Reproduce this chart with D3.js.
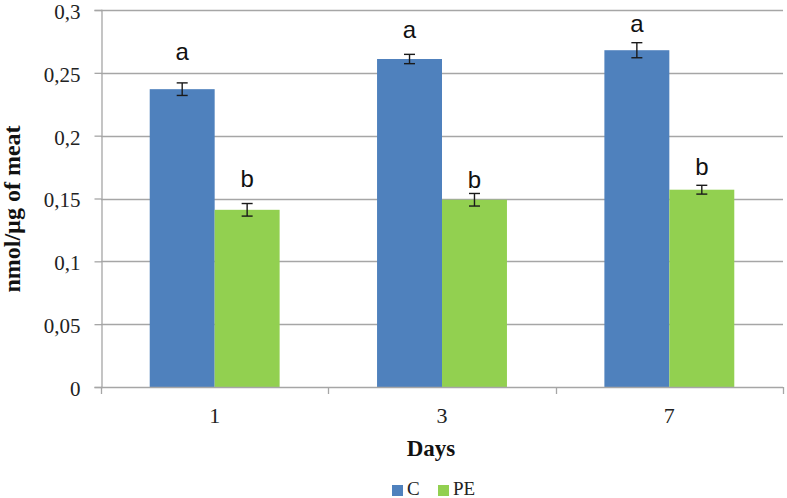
<!DOCTYPE html>
<html>
<head>
<meta charset="utf-8">
<script src="https://cdn.jsdelivr.net/npm/d3@7"></script>
<style>
  body { margin: 0; background: #fff; }
  svg { display: block; }
</style>
</head>
<body>
<svg id="chart" width="787" height="498"></svg>
<script>
// ---- data ----
const days = ["1", "3", "7"];
const seriesNames = ["C", "PE"];
const valuesC = [0.237, 0.261, 0.268];
const valuesPE = [0.141, 0.149, 0.157];
const errC = [0.005, 0.0037, 0.006];
const errPE = [0.005, 0.005, 0.0035];
const lettersC = ["a", "a", "a"];
const lettersPE = ["b", "b", "b"];
// letter baseline positions, in data units
const letterPosC = [0.260, 0.2777, 0.2825];
const letterPosPE = [0.1594, 0.158, 0.1687];
const yTicks = [0, 0.05, 0.1, 0.15, 0.2, 0.25, 0.3];
const yTitle = "nmol/µg of meat";
const xTitle = "Days";
const colors = { C: "#4f81bd", PE: "#92d050" };

(function () {
const rows = [];
days.forEach((d, i) => {
  rows.push({ day: d, s: "C", v: valuesC[i], e: errC[i], l: lettersC[i], lp: letterPosC[i] });
  rows.push({ day: d, s: "PE", v: valuesPE[i], e: errPE[i], l: lettersPE[i], lp: letterPosPE[i] });
});

const svg = d3.select("#chart");
const mL = 101, mR = 783, mT = 10, mB = 387;

const x = d3.scaleBand().domain(days).range([mL, mR]).paddingInner(0).paddingOuter(0);
const xs = d3.scaleBand().domain(seriesNames).range([0, x.bandwidth()]).paddingInner(0).paddingOuter(0.75);
const y = d3.scaleLinear().domain([0, 0.3]).range([mB, mT]);

const fmt = v => String(v).replace(".", ",");

// gridlines
svg.append("g").selectAll("line").data(yTicks.filter(t => t > 0)).join("line")
  .attr("x1", mL).attr("x2", mR)
  .attr("y1", d => Math.round(y(d)) + 0.5).attr("y2", d => Math.round(y(d)) + 0.5)
  .attr("stroke", "#a6a6a6").attr("stroke-width", 1.3);

// bars
svg.append("g").selectAll("rect").data(rows).join("rect")
  .attr("x", d => x(d.day) + xs(d.s))
  .attr("width", xs.bandwidth())
  .attr("y", d => y(d.v))
  .attr("height", d => y(0) - y(d.v))
  .attr("fill", d => colors[d.s]);

// y axis
const yAxis = d3.axisLeft(y).tickValues(yTicks).tickFormat(fmt).tickSize(7).tickPadding(14);
const gy = svg.append("g").attr("transform", `translate(${mL + 0.5},0)`).call(yAxis);
gy.select(".domain").attr("stroke", "#a6a6a6").attr("stroke-width", 1.3);
gy.selectAll(".tick line").attr("stroke", "#a6a6a6").attr("stroke-width", 1.3);
gy.selectAll(".tick text").attr("font-family", "Liberation Serif, Times New Roman, serif")
  .attr("font-size", 21).attr("fill", "#222").attr("dy", "0.4em");

// x axis (ticks at category boundaries)
const boundaries = days.map(d => x(d)).concat([mR]);
const gx = svg.append("g");
gx.append("line").attr("x1", mL).attr("x2", mR)
  .attr("y1", mB + 0.5).attr("y2", mB + 0.5)
  .attr("stroke", "#a6a6a6").attr("stroke-width", 1.3);
gx.selectAll("line.tk").data(boundaries).join("line").attr("class", "tk")
  .attr("x1", d => Math.round(d) + 0.5).attr("x2", d => Math.round(d) + 0.5)
  .attr("y1", mB).attr("y2", mB + 7)
  .attr("stroke", "#a6a6a6").attr("stroke-width", 1.3);
gx.selectAll("text").data(days).join("text")
  .attr("x", d => x(d) + x.bandwidth() / 2)
  .attr("y", 423)
  .attr("text-anchor", "middle")
  .attr("font-family", "Liberation Serif, Times New Roman, serif")
  .attr("font-size", 22).attr("fill", "#222")
  .text(d => d);

// error bars
const eb = svg.append("g").attr("stroke", "#1a1a1a").attr("stroke-width", 1.4);
rows.forEach(d => {
  const cx = x(d.day) + xs(d.s) + xs.bandwidth() / 2;
  eb.append("line").attr("x1", cx).attr("x2", cx).attr("y1", y(d.v + d.e)).attr("y2", y(d.v - d.e));
  eb.append("line").attr("x1", cx - 5.5).attr("x2", cx + 5.5).attr("y1", y(d.v + d.e)).attr("y2", y(d.v + d.e));
  eb.append("line").attr("x1", cx - 5.5).attr("x2", cx + 5.5).attr("y1", y(d.v - d.e)).attr("y2", y(d.v - d.e));
});

// letters
svg.append("g").selectAll("text").data(rows).join("text")
  .attr("x", d => x(d.day) + xs(d.s) + xs.bandwidth() / 2)
  .attr("y", d => y(d.lp))
  .attr("text-anchor", "middle")
  .attr("font-family", "Liberation Sans, Arial, sans-serif")
  .attr("font-size", 24).attr("fill", "#111")
  .text(d => d.l);

// axis titles
svg.append("text")
  .attr("transform", `translate(20,209) rotate(-90)`)
  .attr("text-anchor", "middle")
  .attr("font-family", "Liberation Serif, Times New Roman, serif")
  .attr("font-weight", "bold").attr("font-size", 24).attr("fill", "#111")
  .text(yTitle);
svg.append("text")
  .attr("x", 431).attr("y", 456)
  .attr("text-anchor", "middle")
  .attr("font-family", "Liberation Serif, Times New Roman, serif")
  .attr("font-weight", "bold").attr("font-size", 23).attr("fill", "#111")
  .text(xTitle);

// legend
const legendX = [392, 438];
const lg = svg.append("g");
seriesNames.forEach((s, i) => {
  lg.append("rect").attr("x", legendX[i]).attr("y", 485).attr("width", 11).attr("height", 11).attr("fill", colors[s]);
  lg.append("text").attr("x", legendX[i] + 15).attr("y", 495)
    .attr("font-family", "Liberation Serif, Times New Roman, serif")
    .attr("font-size", 19).attr("fill", "#222").text(s);
});
})();
</script>
</body>
</html>
